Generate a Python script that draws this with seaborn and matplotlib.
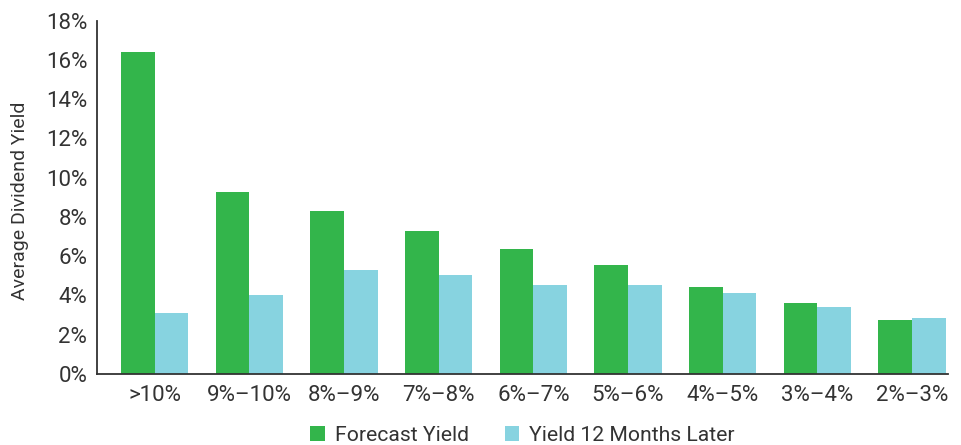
import matplotlib
matplotlib.use("Agg")
import matplotlib.pyplot as plt
import seaborn as sns
import pandas as pd
from matplotlib.ticker import FuncFormatter

categories = [">10%", "9%\u201310%", "8%\u20139%", "7%\u20138%", "6%\u20137%",
              "5%\u20136%", "4%\u20135%", "3%\u20134%", "2%\u20133%"]
forecast_yield = [16.39, 9.25, 8.32, 7.30, 6.38, 5.56, 4.44, 3.62, 2.76]
yield_12m_later = [3.13, 4.03, 5.31, 5.05, 4.54, 4.54, 4.13, 3.42, 2.86]
series_names = ["Forecast Yield", "Yield 12 Months Later"]
y_ticks = [0, 2, 4, 6, 8, 10, 12, 14, 16, 18]

df = pd.DataFrame({
    "Category": categories * 2,
    "Series": [series_names[0]] * len(categories) + [series_names[1]] * len(categories),
    "Value": forecast_yield + yield_12m_later,
})

sns.set_theme(style="white")
plt.rcParams["font.family"] = ["Roboto", "DejaVu Sans"]
text_color = "#333333"

fig = plt.figure(figsize=(9.62, 4.45), dpi=100)
ax = fig.add_axes([0.1008, 0.1596, 0.9854 - 0.1008, 0.9535 - 0.1596])

sns.barplot(data=df, x="Category", y="Value", hue="Series", order=categories,
            hue_order=series_names, palette=["#33b54b", "#87d3e0"],
            width=0.71, saturation=1, linewidth=0, ax=ax, legend=True)

ax.set_ylim(0, 18)
ax.set_xlim(-0.61, 8.38)
ax.set_yticks(y_ticks)
ax.yaxis.set_major_formatter(FuncFormatter(lambda v, p: f"{v:.0f}%"))
ax.set_xlabel("")
ax.set_ylabel("Average Dividend Yield", fontsize=14, color=text_color)
ax.yaxis.set_label_coords(-0.080, 0.49)
ax.tick_params(axis="both", length=0, labelsize=16, colors=text_color)
ax.tick_params(axis="x", pad=8)
ax.tick_params(axis="y", pad=7)

for s in ["top", "right"]:
    ax.spines[s].set_visible(False)
for s in ["left", "bottom"]:
    ax.spines[s].set_color("#333333")
    ax.spines[s].set_linewidth(1.3)

handles, labels = ax.get_legend_handles_labels()
ax.get_legend().remove()
leg = fig.legend(handles, labels, loc="center", bbox_to_anchor=(0.543, 0.021), ncol=2,
                 frameon=False, fontsize=15.2, handlelength=0.7, handleheight=0.7,
                 columnspacing=1.7, handletextpad=0.45, borderpad=0)
for t in leg.get_texts():
    t.set_color(text_color)

fig.savefig("out.png", dpi=100)
